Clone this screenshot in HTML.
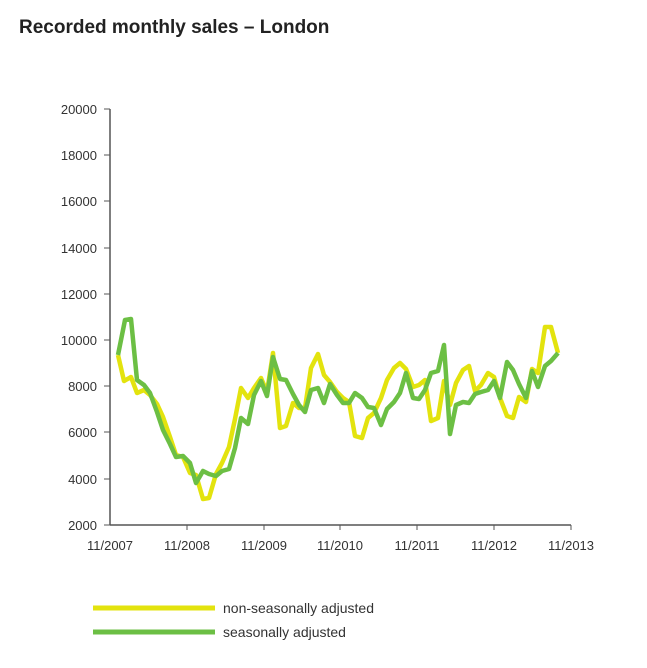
<!DOCTYPE html>
<html><head><meta charset="utf-8"><style>
body{margin:0;background:#fff;width:647px;height:663px;overflow:hidden;font-family:"Liberation Sans",sans-serif}
</style></head><body>
<svg width="647" height="663" xmlns="http://www.w3.org/2000/svg" font-family="Liberation Sans, sans-serif">
<text x="19" y="33" font-size="19" font-weight="bold" fill="#222">Recorded monthly sales – London</text>
<g stroke="#555" stroke-width="1.5" fill="none">
<line x1="110" y1="109" x2="110" y2="525"/>
<line x1="110" y1="525" x2="571" y2="525"/>
</g>
<g stroke="#555" stroke-width="1">
<line x1="104" y1="109" x2="110" y2="109"/><line x1="104" y1="155" x2="110" y2="155"/><line x1="104" y1="201" x2="110" y2="201"/><line x1="104" y1="248" x2="110" y2="248"/><line x1="104" y1="294" x2="110" y2="294"/><line x1="104" y1="340" x2="110" y2="340"/><line x1="104" y1="386" x2="110" y2="386"/><line x1="104" y1="432" x2="110" y2="432"/><line x1="104" y1="479" x2="110" y2="479"/><line x1="104" y1="525" x2="110" y2="525"/>
<line x1="187" y1="525" x2="187" y2="530"/><line x1="264" y1="525" x2="264" y2="530"/><line x1="340" y1="525" x2="340" y2="530"/><line x1="417" y1="525" x2="417" y2="530"/><line x1="494" y1="525" x2="494" y2="530"/><line x1="571" y1="525" x2="571" y2="530"/>
</g>
<g font-size="13" fill="#333" text-anchor="end">
<text x="97" y="114">20000</text><text x="97" y="160">18000</text><text x="97" y="206">16000</text><text x="97" y="253">14000</text><text x="97" y="299">12000</text><text x="97" y="345">10000</text><text x="97" y="391">8000</text><text x="97" y="437">6000</text><text x="97" y="484">4000</text><text x="97" y="530">2000</text>
</g>
<g font-size="13" fill="#333" text-anchor="middle">
<text x="110" y="550">11/2007</text><text x="187" y="550">11/2008</text><text x="264" y="550">11/2009</text><text x="340" y="550">11/2010</text><text x="417" y="550">11/2011</text><text x="494" y="550">11/2012</text><text x="571" y="550">11/2013</text>
</g>
<polyline fill="none" stroke="#e3e30e" stroke-width="4.5" stroke-linejoin="round" points="118,355 124,381 131,377 137,393 144,390 150,395 157,404 163,417 170,437 176,455 183,457 190,473 196,475 203,499 209,498 216,474 222,463 229,447 235,419 241,388 248,398 254,388 261,378 267,392 273,353 280,428 286,426 293,403 299,408 305,408 311,368 318,354 324,375 330,382 337,392 343,398 349,402 355,436 362,438 368,418 374,413 381,398 387,380 394,368 400,363 406,369 413,387 419,385 425,380 431,421 438,418 444,381 450,405 456,383 463,370 469,366 475,391 481,385 488,373 494,377 500,398 507,416 513,418 519,397 526,402 532,369 538,373 545,327 551,327 558,353"/>
<polyline fill="none" stroke="#6cbf44" stroke-width="4.5" stroke-linejoin="round" points="118,355 125,320 131,319 137,380 144,385 150,393 157,412 163,430 170,444 176,457 183,456 190,463 196,483 203,471 209,474 216,476 222,471 229,469 235,448 241,418 248,424 254,395 261,381 267,396 273,357 280,379 286,380 293,394 299,405 305,412 311,390 318,388 324,403 330,384 337,395 343,403 349,403 355,393 362,398 368,407 374,408 381,425 387,409 394,402 400,393 406,373 413,398 419,399 425,390 431,373 438,371 444,345 450,434 456,405 463,402 469,403 475,394 481,392 488,390 494,381 500,398 507,362 513,370 519,384 526,398 532,371 538,387 545,366 551,361 558,353"/>
<line x1="93" y1="608" x2="215" y2="608" stroke="#e3e30e" stroke-width="5"/>
<line x1="93" y1="632" x2="215" y2="632" stroke="#6cbf44" stroke-width="5"/>
<text x="223" y="613" font-size="14" fill="#333">non-seasonally adjusted</text>
<text x="223" y="637" font-size="14" fill="#333">seasonally adjusted</text>
</svg>
</body></html>
